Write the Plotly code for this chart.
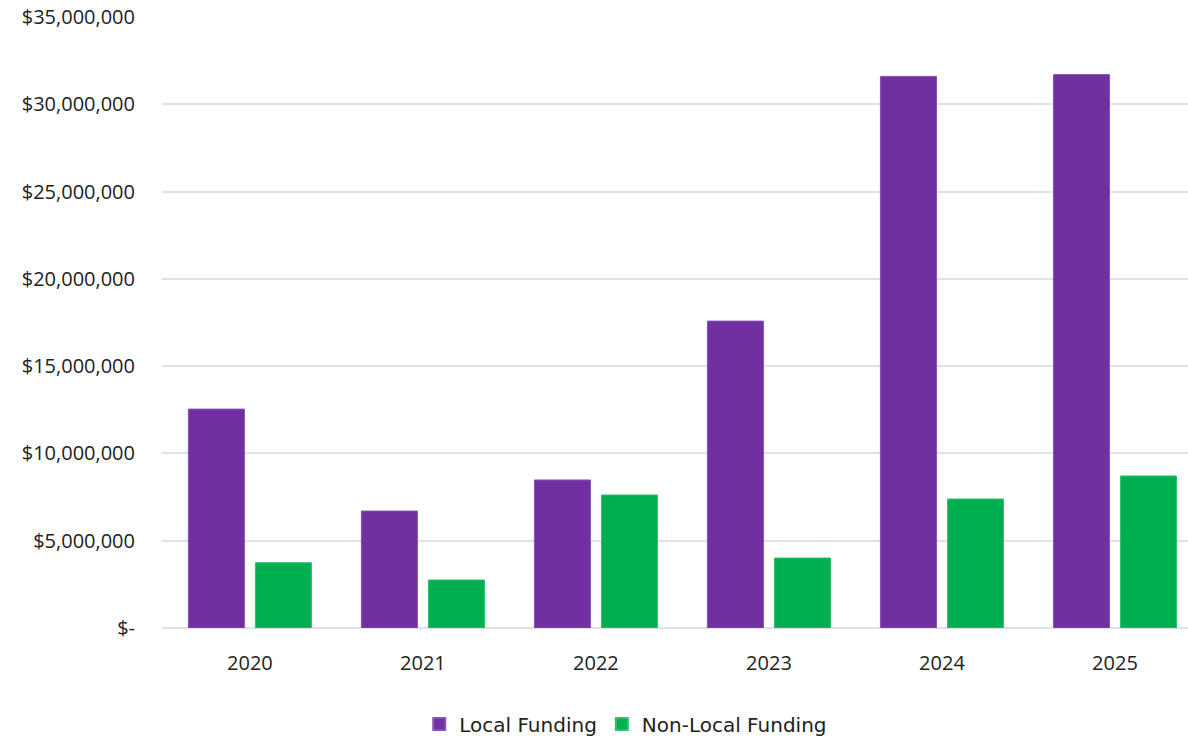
import plotly.graph_objects as go

years = ["2020", "2021", "2022", "2023", "2024", "2025"]
local_funding = [12540000, 6700000, 8480000, 17580000, 31600000, 31700000]
non_local_funding = [3740000, 2750000, 7620000, 4010000, 7390000, 8710000]
tick_vals = [0, 5000000, 10000000, 15000000, 20000000, 25000000, 30000000, 35000000]
tick_text = ["$-", "$5,000,000", "$10,000,000", "$15,000,000", "$20,000,000",
             "$25,000,000", "$30,000,000", "$35,000,000"]

fig = go.Figure()
fig.add_trace(go.Bar(x=years, y=local_funding, name="Local Funding",
                     marker=dict(color="#7030A0", line=dict(color="#8a52b5", width=1))))
fig.add_trace(go.Bar(x=years, y=non_local_funding, name="Non-Local Funding",
                     marker=dict(color="#00B050", line=dict(color="#33c070", width=1))))

fig.update_layout(
    width=1188, height=737,
    margin=dict(l=162, r=0, t=17, b=109, autoexpand=False),
    plot_bgcolor="white", paper_bgcolor="white",
    barmode="group", bargap=0.225, bargroupgap=0.164,
    font=dict(family="Open Sans, sans-serif", color="#222222"),
    xaxis=dict(type="category", range=[-0.508, 5.422], showgrid=False, showline=False,
               automargin=False,
               ticks="outside", ticklen=17, tickcolor="rgba(0,0,0,0)",
               tickfont=dict(size=20, color="#222222")),
    yaxis=dict(range=[0, 35000000], tickvals=tick_vals, ticktext=tick_text,
               automargin=False,
               showgrid=True, gridcolor="#DDE2EA", gridwidth=2, zeroline=True,
               zerolinecolor="#DDE2EA", zerolinewidth=2,
               ticks="outside", ticklen=22, tickcolor="rgba(0,0,0,0)",
               tickfont=dict(size=20, color="#222222")),
    legend=dict(orientation="h", x=0.452, xanchor="center", y=-0.157, yanchor="middle",
                font=dict(family="DejaVu Sans, sans-serif", size=20, color="#222222"),
                itemsizing="constant"),
)

fig.write_html("out.html")
